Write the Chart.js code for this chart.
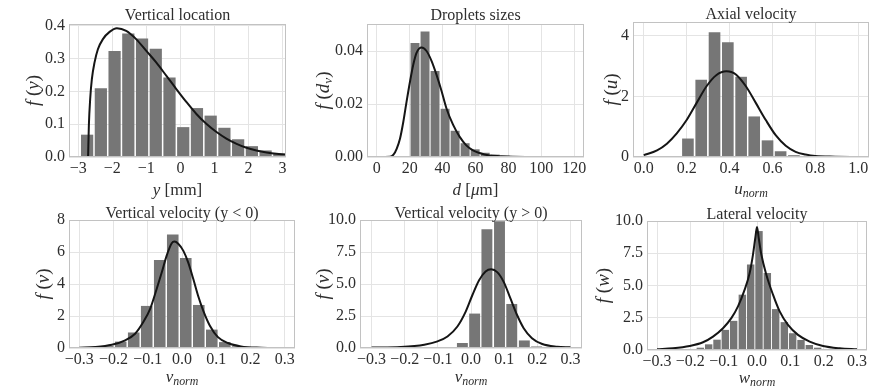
<!DOCTYPE html>
<html>
<head>
<meta charset="utf-8">
<script src="https://cdn.jsdelivr.net/npm/chart.js@4.4.0/dist/chart.umd.min.js"></script>
<style>
html, body { margin: 0; padding: 0; background: #fff; overflow: hidden; width: 881px; height: 386px; }
canvas { position: absolute; }
</style>
</head>
<body>
<canvas id="c1"></canvas>
<canvas id="c2"></canvas>
<canvas id="c3"></canvas>
<canvas id="c4"></canvas>
<canvas id="c5"></canvas>
<canvas id="c6"></canvas>
<script>
// Vertical location (histogram + fitted pdf)
const locBins = [-2.738, -2.335, -1.932, -1.529, -1.126, -0.723, -0.320, 0.083, 0.486, 0.889, 1.292, 1.695, 2.098, 2.501, 2.904];
const locHist = [0.068, 0.209, 0.323, 0.376, 0.361, 0.330, 0.242, 0.091, 0.149, 0.126, 0.089, 0.054, 0.033, 0.020, 0.010];
const locCurveX = [-2.71, -2.687, -2.648, -2.599, -2.52, -2.422, -2.275, -2.079, -1.864, -1.59, -1.30, -1.00, -0.71, -0.41, -0.12, 0.18, 0.47, 0.76, 1.06, 1.35, 1.65, 1.94, 2.23, 2.53, 2.82, 3.07];
const locCurveY = [0, 0.096, 0.177, 0.237, 0.288, 0.328, 0.359, 0.381, 0.392, 0.384, 0.359, 0.323, 0.288, 0.247, 0.207, 0.167, 0.131, 0.101, 0.076, 0.056, 0.040, 0.028, 0.020, 0.014, 0.010, 0.008];

// Droplets sizes
const dropBins = [23.2, 29.3, 35.4, 41.5, 47.6, 53.7, 59.8, 65.9, 72.0, 78.1, 84.2, 90.3];
const dropHist = [0.0430, 0.0474, 0.0325, 0.0182, 0.0099, 0.0052, 0.0029, 0.0016, 0.0009, 0.0005, 0.0003, 0.0001];
const dropCurveX = [0, 8, 10.1, 12.1, 14.1, 16.1, 18.1, 20.2, 22.2, 24.2, 27.2, 30.2, 33.3, 36.3, 39.3, 42.3, 46.4, 50.4, 54.4, 58.5, 62.5, 68.5, 74.6, 82.7, 100, 120];
const dropCurveY = [0, 0.0001, 0.0009, 0.0032, 0.007, 0.0133, 0.021, 0.0286, 0.035, 0.0394, 0.0413, 0.0400, 0.0362, 0.031, 0.025, 0.0184, 0.0121, 0.0076, 0.0044, 0.0025, 0.0015, 0.0006, 0.0003, 0.0001, 0, 0];

// Axial velocity
const axBins = [0.145, 0.206, 0.268, 0.330, 0.392, 0.454, 0.515, 0.577, 0.638, 0.700, 0.762];
const axHist = [0.02, 0.61, 2.55, 4.12, 3.79, 2.65, 1.34, 0.55, 0.19, 0.06, 0.02];
const axCurveX = [0.0, 0.062, 0.108, 0.154, 0.2, 0.246, 0.292, 0.338, 0.385, 0.408, 0.431, 0.477, 0.523, 0.569, 0.615, 0.662, 0.708, 0.754, 0.8, 0.892, 1.0];
const axCurveY = [0.06, 0.22, 0.44, 0.78, 1.22, 1.78, 2.33, 2.70, 2.83, 2.81, 2.72, 2.33, 1.78, 1.22, 0.72, 0.37, 0.17, 0.08, 0.03, 0.01, 0.0];

// Vertical velocity (y < 0)
const vnBins = [-0.255, -0.217, -0.179, -0.141, -0.103, -0.065, -0.027, 0.011, 0.049, 0.087, 0.125, 0.163, 0.201];
const vnHist = [0.03, 0.12, 0.40, 0.97, 2.63, 5.50, 7.10, 5.62, 2.69, 1.15, 0.37, 0.11, 0.03];
const vnCurveX = [-0.3, -0.253, -0.205, -0.166, -0.137, -0.113, -0.093, -0.074, -0.059, -0.045, -0.030, -0.022, -0.011, 0.004, 0.018, 0.033, 0.047, 0.062, 0.081, 0.105, 0.134, 0.172, 0.231, 0.3];
const vnCurveY = [0.02, 0.06, 0.2, 0.48, 0.89, 1.62, 2.45, 3.69, 4.73, 5.76, 6.55, 6.65, 6.52, 6.07, 5.35, 4.31, 3.27, 2.34, 1.41, 0.68, 0.31, 0.10, 0.02, 0.0];

// Vertical velocity (y > 0)
const vpBins = [-0.064, -0.026, 0.011, 0.048, 0.086, 0.123, 0.161, 0.198, 0.236];
const vpHist = [0.05, 0.39, 2.69, 9.28, 9.90, 3.44, 0.59, 0.12, 0.04];
const vpCurveX = [-0.3, -0.212, -0.141, -0.101, -0.071, -0.041, -0.016, 0.004, 0.024, 0.044, 0.061, 0.079, 0.099, 0.119, 0.139, 0.159, 0.184, 0.215, 0.260, 0.3];
const vpCurveY = [0.03, 0.08, 0.26, 0.52, 0.90, 1.68, 2.84, 4.12, 5.28, 5.98, 6.15, 5.93, 5.15, 3.87, 2.58, 1.55, 0.77, 0.31, 0.10, 0.05];

// Lateral velocity
const latBins = [-0.221, -0.196, -0.170, -0.145, -0.120, -0.095, -0.070, -0.044, -0.019, 0.006, 0.031, 0.056, 0.082, 0.107, 0.132, 0.157, 0.182, 0.207, 0.233];
const latHist = [0.03, 0.08, 0.18, 0.44, 0.80, 1.56, 2.26, 4.29, 6.62, 9.22, 5.97, 3.17, 2.16, 1.30, 0.78, 0.39, 0.18, 0.08, 0.03];
const latCurveX = [-0.3, -0.252, -0.202, -0.162, -0.132, -0.102, -0.077, -0.057, -0.037, -0.022, -0.012, -0.005, 0.0, 0.005, 0.013, 0.028, 0.048, 0.068, 0.093, 0.123, 0.158, 0.198, 0.248, 0.3];
const latCurveY = [0.05, 0.13, 0.31, 0.6, 1.04, 1.69, 2.47, 3.38, 4.68, 5.97, 7.4, 8.7, 9.53, 8.7, 7.4, 5.84, 4.29, 2.99, 1.95, 1.17, 0.65, 0.31, 0.13, 0.05];

const SERIF = '"Liberation Serif", "DejaVu Serif", serif';
const TEXT = '#2e2e2e';
const GRID = '#e4e4e4';
const BAR = '#767676';

// draws a label made of pieces: [text, style] with style 'n' normal, 'i' italic, 's' subscript
function drawRich(ctx, parts, x, y, size) {
    const fontFor = p => (p[1].includes('i') ? 'italic ' : '') + (p[1].includes('s') ? size * 0.7 : size) + 'px ' + SERIF;
    let w = 0;
    parts.forEach(p => { ctx.font = fontFor(p); w += ctx.measureText(p[0]).width; });
    let px = x - w / 2;
    ctx.textAlign = 'left';
    ctx.textBaseline = 'alphabetic';
    parts.forEach(p => {
        ctx.font = fontFor(p);
        const dy = p[1].includes('s') ? size * 0.17 : 0;
        ctx.fillText(p[0], px, y + dy);
        px += ctx.measureText(p[0]).width;
    });
}

const panelText = {
    id: 'panelText',
    afterDraw(chart, args, o) {
        const { ctx, chartArea: a } = chart;
        ctx.save();
        ctx.strokeStyle = '#c2c2c2';
        ctx.lineWidth = 1;
        ctx.strokeRect(a.left + 0.5, a.top + 0.5, a.width - 1, a.height - 1);
        ctx.fillStyle = TEXT;
        drawRich(ctx, [[o.title, 'n']], (a.left + a.right) / 2, a.top - o.titleGap + 5, 16);
        drawRich(ctx, o.xLabel, (a.left + a.right) / 2, a.bottom + o.xGap, 17);
        ctx.translate(a.left - o.yGap, (a.top + a.bottom) / 2);
        ctx.rotate(-Math.PI / 2);
        drawRich(ctx, o.yLabel, 0, 6, 19);
        ctx.restore();
    }
};

function fmt(dec) {
    return v => (v < -1e-9 ? '\u2212' : '') + Math.abs(v).toFixed(dec);
}

function makePanel(id, fr, bins, hist, cx, cy, sc, text) {
    const L = 62, T = 26, B = 44, R = 14;
    const canvas = document.getElementById(id);
    canvas.width = fr.r - fr.l + L + R;
    canvas.height = fr.b - fr.t + T + B;
    canvas.style.left = (fr.l - L) + 'px';
    canvas.style.top = (fr.t - T) + 'px';

    new Chart(canvas, {
        type: 'bar',
        data: {
            datasets: [{
                    type: 'line',
                    data: cx.map((x, i) => ({ x: x, y: cy[i] })),
                    borderColor: '#151515',
                    borderWidth: 2,
                    pointRadius: 0,
                    cubicInterpolationMode: 'monotone',
                    order: 0
                },
                {
                    type: 'bar',
                    data: bins.map((x, i) => ({ x: x, y: hist[i] })),
                    backgroundColor: BAR,
                    borderWidth: 0,
                    categoryPercentage: 1,
                    barPercentage: 0.89,
                    order: 1
                }
            ]
        },
        options: {
            responsive: false,
            animation: false,
            devicePixelRatio: 1,
            layout: { padding: { top: T, right: R, left: 0, bottom: 0 } },
            plugins: {
                legend: { display: false },
                tooltip: { enabled: false },
                panelText: text
            },
            scales: {
                x: {
                    type: 'linear',
                    min: sc.xMin,
                    max: sc.xMax,
                    offset: false,
                    grid: { offset: false, color: GRID, drawTicks: false },
                    border: { display: false },
                    ticks: {
                        stepSize: sc.xStep,
                        includeBounds: false,
                        autoSkip: false,
                        maxRotation: 0,
                        padding: 2,
                        color: TEXT,
                        font: { family: SERIF, size: 16 },
                        callback: fmt(sc.xDec)
                    },
                    afterFit: s => { s.height = B; }
                },
                y: {
                    min: 0,
                    max: sc.yMax,
                    grid: { color: GRID, drawTicks: false },
                    border: { display: false },
                    ticks: {
                        stepSize: sc.yStep,
                        includeBounds: false,
                        padding: 4,
                        color: TEXT,
                        font: { family: SERIF, size: 16 },
                        callback: fmt(sc.yDec)
                    },
                    afterFit: s => { s.width = L; }
                }
            }
        },
        plugins: [panelText]
    });
}

const fX = (v) => [['f', 'i'], [' (', 'n'], [v, 'i'], [')', 'n']];

makePanel('c1', { l: 69, r: 286, t: 24, b: 157 }, locBins, locHist, locCurveX, locCurveY,
    { xMin: -3.27, xMax: 3.1, xStep: 1, xDec: 0, yMax: 0.405, yStep: 0.1, yDec: 1 },
    { title: 'Vertical location', titleGap: 9, xGap: 38, yGap: 36, xLabel: [['y', 'i'], [' [mm]', 'n']], yLabel: fX('y') });

makePanel('c2', { l: 367, r: 584, t: 24, b: 157 }, dropBins, dropHist, dropCurveX, dropCurveY,
    { xMin: -6, xMax: 126, xStep: 20, xDec: 0, yMax: 0.0502, yStep: 0.02, yDec: 2 },
    { title: 'Droplets sizes', titleGap: 9, xGap: 38, yGap: 44, xLabel: [['d', 'i'], [' [', 'n'], ['\u03bc', 'i'], ['m]', 'n']],
      yLabel: [['f', 'i'], [' (', 'n'], ['d', 'i'], ['v', 'is'], [')', 'n']] });

makePanel('c3', { l: 633, r: 869, t: 22, b: 157 }, axBins, axHist, axCurveX, axCurveY,
    { xMin: -0.05, xMax: 1.05, xStep: 0.2, xDec: 1, yMax: 4.46, yStep: 2, yDec: 0 },
    { title: 'Axial velocity', titleGap: 8, xGap: 37, yGap: 22, xLabel: [['u', 'i'], ['norm', 'is']], yLabel: fX('u') });

makePanel('c4', { l: 69, r: 295, t: 220, b: 348 }, vnBins, vnHist, vnCurveX, vnCurveY,
    { xMin: -0.33, xMax: 0.33, xStep: 0.1, xDec: 1, yMax: 8, yStep: 2, yDec: 0 },
    { title: 'Vertical velocity (y < 0)', titleGap: 7, xGap: 34, yGap: 26, xLabel: [['v', 'i'], ['norm', 'is']], yLabel: fX('v') });

makePanel('c5', { l: 360, r: 582, t: 220, b: 348 }, vpBins, vpHist, vpCurveX, vpCurveY,
    { xMin: -0.335, xMax: 0.335, xStep: 0.1, xDec: 1, yMax: 10, yStep: 2.5, yDec: 1 },
    { title: 'Vertical velocity (y > 0)', titleGap: 7, xGap: 34, yGap: 37, xLabel: [['v', 'i'], ['norm', 'is']], yLabel: fX('v') });

makePanel('c6', { l: 647, r: 867, t: 221, b: 350 }, latBins, latHist, latCurveX, latCurveY,
    { xMin: -0.33, xMax: 0.33, xStep: 0.1, xDec: 1, yMax: 10, yStep: 2.5, yDec: 1 },
    { title: 'Lateral velocity', titleGap: 7, xGap: 33, yGap: 44, xLabel: [['w', 'i'], ['norm', 'is']], yLabel: fX('w') });
</script>
</body>
</html>
